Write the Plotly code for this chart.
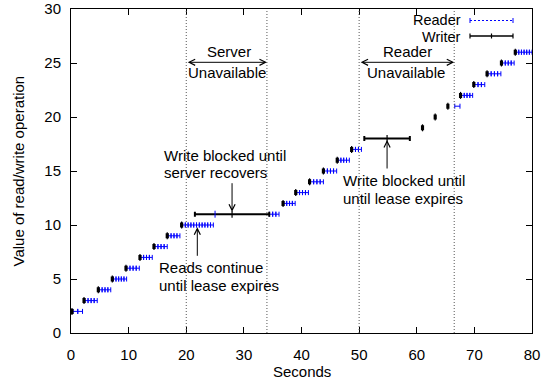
import plotly.graph_objects as go

# ---------------- data ----------------
levels = list(range(2, 27))
write_start = [0.07, 2.16, 4.64, 7.07, 9.44, 11.87, 14.30, 16.60, 19.10, 21.50,
               36.70, 38.90, 41.30, 43.70, 46.10, 48.60, 50.90, 60.90, 63.10,
               65.30, 67.50, 69.80, 72.10, 74.60, 77.00]
write_end = [0.27, 2.36, 4.84, 7.27, 9.64, 12.07, 14.50, 16.80, 19.30, 34.40,
             36.90, 39.10, 41.50, 43.90, 46.30, 48.80, 58.80, 61.10, 63.30,
             65.50, 67.70, 70.00, 72.30, 74.80, 77.20]
read_start = [0.35, 2.43, 4.90, 7.35, 9.70, 12.10, 14.55, 16.85, 19.35, 34.45,
              36.95, 39.15, 41.55, 43.95, 46.35, 48.85, None, None, None,
              66.60, 67.75, 70.05, 72.35, 74.85, 77.25]
read_end = [2.00, 4.55, 6.90, 9.65, 11.85, 14.10, 16.70, 18.90, 24.70, 36.10,
            38.90, 41.20, 43.80, 46.10, 48.30, 50.40, None, None, None,
            67.50, 69.70, 71.80, 74.60, 76.90, 80.00]
read_count = [2, 4, 4, 5, 4, 4, 4, 4, 11, 3, 4, 4, 4, 4, 4, 3, 0, 0, 0,
              1, 4, 3, 4, 4, 6]
blocked_read_x = [25.0]
blocked_read_y = [11]
event_times = [20.0, 34.0, 50.0, 66.5]
x_ticks = [0, 10, 20, 30, 40, 50, 60, 70, 80]
y_ticks = [0, 5, 10, 15, 20, 25, 30]

# ---------------- layout geometry ----------------
W, H = 542, 383
L, R, T, B = 71, 10, 9, 50
PW, PH = W - L - R, H - T - B
FONT = "Liberation Sans, Arial, Helvetica, sans-serif"
BLUE = "#0000ff"


def pxx(x):
    return (x - L) / PW


def pxy(y):
    return (H - B - y) / PH


fig = go.Figure()

# reads
rx, rh, ry = [], [], []
for lv, s, e, n in zip(levels, read_start, read_end, read_count):
    if s is None or n == 0:
        continue
    d = (e - s) / n
    for i in range(n):
        rx.append(s + (i + 0.5) * d)
        rh.append(d / 2)
        ry.append(lv)
fig.add_trace(go.Scatter(
    x=rx, y=ry, mode="markers",
    marker=dict(size=1, color="rgba(0,0,0,0)"),
    error_x=dict(type="data", symmetric=True, array=rh, color=BLUE,
                 thickness=1, width=2.5),
    hoverinfo="skip"))

# writes
wx = [(s + e) / 2 for s, e in zip(write_start, write_end)]
wh = [(e - s) / 2 for s, e in zip(write_start, write_end)]
fig.add_trace(go.Scatter(
    x=wx, y=levels, mode="markers",
    marker=dict(symbol="line-ns", size=5, color="black",
                line=dict(width=1.2, color="black")),
    error_x=dict(type="data", symmetric=True, array=wh, color="black",
                 thickness=2, width=2.5),
    hoverinfo="skip"))

# blocked read point
fig.add_trace(go.Scatter(
    x=blocked_read_x, y=blocked_read_y, mode="markers",
    marker=dict(symbol="line-ns", size=5, color=BLUE,
                line=dict(width=1, color=BLUE)),
    hoverinfo="skip"))

shapes = []
for t in event_times:
    shapes.append(dict(type="line", xref="x", yref="paper", x0=t, x1=t,
                       y0=0, y1=1, line=dict(color="#555555", width=1,
                                             dash="1px,2px")))

# legend samples (paper coords)
lx0, lx1 = pxx(470), pxx(513)
ry_, wy_ = pxy(20.5), pxy(36)
cap = 2.5 / PH
shapes.append(dict(type="line", xref="paper", yref="paper", x0=lx0, x1=lx1,
                   y0=ry_, y1=ry_, line=dict(color=BLUE, width=1, dash="2px,2px")))
for xx in (lx0, lx1):
    shapes.append(dict(type="line", xref="paper", yref="paper", x0=xx, x1=xx,
                       y0=ry_ - cap, y1=ry_ + cap, line=dict(color=BLUE, width=1)))
shapes.append(dict(type="line", xref="paper", yref="paper", x0=lx0, x1=lx1,
                   y0=wy_, y1=wy_, line=dict(color="black", width=1.5)))
for xx in (lx0, (lx0 + lx1) / 2, lx1):
    shapes.append(dict(type="line", xref="paper", yref="paper", x0=xx, x1=xx,
                       y0=wy_ - cap, y1=wy_ + cap, line=dict(color="black", width=1.2)))

annotations = []


def label(text, x, y, xanchor="left", size=15):
    annotations.append(dict(text=text, xref="paper", yref="paper",
                            x=pxx(x), y=pxy(y), xanchor=xanchor,
                            yanchor="middle", showarrow=False, borderpad=0,
                            font=dict(family=FONT, size=size, color="black")))


label("Reader", 462, 20, "right", 14.5)
label("Writer", 462, 36.5, "right", 14.5)
label("Server", 229, 51.7, "center")
label("Unavailable", 226.5, 72.7, "center")
label("Reader", 407, 51.7, "center")
label("Unavailable", 406, 72.7, "center")
label("Write blocked until", 163, 155.5)
label("server recovers", 163, 172)
label("Reads continue", 157.5, 267.7)
label("until lease expires", 157.5, 285)
label("Write blocked until", 341.5, 180.7)
label("until lease expires", 341.5, 198.3)

# axis titles
label("Seconds", L + PW / 2, 371, "center")
annotations.append(dict(text="Value of read/write operation", xref="paper",
                        yref="paper", x=pxx(17.5), y=0.5, xanchor="center",
                        yanchor="middle", textangle=-90, showarrow=False,
                        font=dict(family=FONT, size=15, color="black")))

# double arrows for unavailable periods
arrow_y = (H - B - 62.3) / PH * 30
for a, b in [(event_times[0], event_times[1]), (event_times[2], event_times[3])]:
    annotations.append(dict(x=b, y=arrow_y, ax=a, ay=arrow_y, xref="x", yref="y",
                            axref="x", ayref="y", text="", showarrow=True,
                            arrowhead=5, startarrowhead=5, arrowside="end+start",
                            arrowsize=1.2, startarrowsize=1.2, arrowwidth=1,
                            arrowcolor="black", standoff=0, startstandoff=0))

# pointer arrows
unit = 30 / PH
c11 = wx[levels.index(11)]
c18 = wx[levels.index(18)]
c10 = 21.92
pointers = [
    (c10, 10 - 2.3 * unit, 10 - 32.3 * unit),
    (c11, 11 + 2.5 * unit, 11 + 32.5 * unit),
    (c18, 18 - 1.4 * unit, 18 - 31.4 * unit),
]
for x, ytip, ytail in pointers:
    annotations.append(dict(x=x, y=ytip, ax=x, ay=ytail, xref="x", yref="y",
                            axref="x", ayref="y", text="", showarrow=True,
                            arrowhead=5, arrowsize=1.2, arrowwidth=1,
                            arrowcolor="black", standoff=0))

axis_common = dict(showline=True, linecolor="black", linewidth=1, mirror="allticks",
                   ticks="inside", ticklen=6, tickcolor="black", tickwidth=1,
                   showgrid=False, zeroline=False, automargin=False,
                   tickfont=dict(family=FONT, size=15, color="black"))

fig.update_layout(
    width=W, height=H,
    margin=dict(l=L, r=R, t=T, b=B, pad=0, autoexpand=False),
    paper_bgcolor="white", plot_bgcolor="white",
    showlegend=False,
    shapes=shapes, annotations=annotations,
    xaxis=dict(range=[0, 80], tickvals=x_ticks, ticklabelstandoff=8,
               **axis_common),
    yaxis=dict(range=[0, 30], tickvals=y_ticks, ticklabelstandoff=6,
               **axis_common),
)

fig.write_html("out.html")
